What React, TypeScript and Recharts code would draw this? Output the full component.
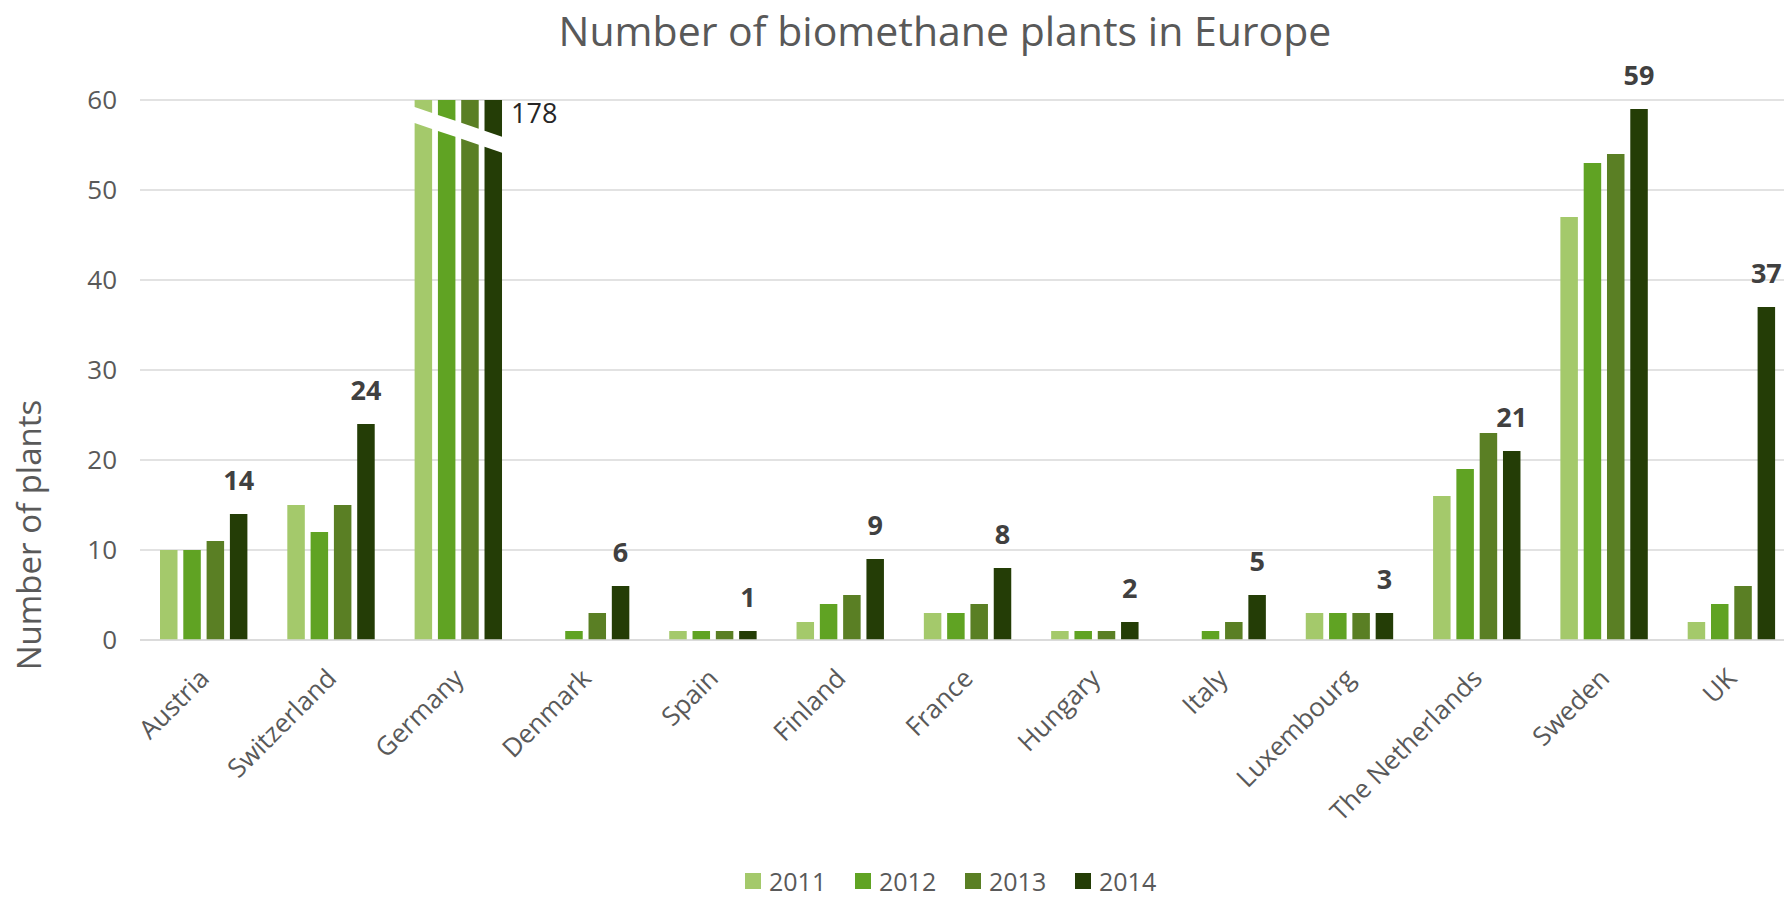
import React from 'react';
import { BarChart, Bar, XAxis, YAxis, CartesianGrid, LabelList, Label } from 'recharts';

const categories = ['Austria', 'Switzerland', 'Germany', 'Denmark', 'Spain', 'Finland', 'France', 'Hungary', 'Italy', 'Luxembourg', 'The Netherlands', 'Sweden', 'UK'];
const values2011 = [10, 15, 84, 0, 1, 2, 3, 1, 0, 3, 16, 47, 2];
const values2012 = [10, 12, 120, 1, 1, 4, 3, 1, 1, 3, 19, 53, 4];
const values2013 = [11, 15, 151, 3, 1, 5, 4, 1, 2, 3, 23, 54, 6];
const values2014 = [14, 24, 178, 6, 1, 9, 8, 2, 5, 3, 21, 59, 37];
const seriesNames = ['2011', '2012', '2013', '2014'];
const seriesColors = ['#A4C96B', '#60A323', '#5A7F24', '#243D06'];
const yTicks = [0, 10, 20, 30, 40, 50, 60];

const data = categories.map((c, i) => ({
  name: c,
  y2011: values2011[i],
  y2012: values2012[i],
  y2013: values2013[i],
  y2014: values2014[i],
}));
const keys = ['y2011', 'y2012', 'y2013', 'y2014'];

const FONT = '"Open Sans", "Noto Sans", sans-serif';
const BAR_SIZE = 17.5;
const BAR_GAP = 5.8;
const Y_MAX = yTicks[yTicks.length - 1];

const makeShape = (seriesIdx: number) => (props: any) => {
  const { x, y, width, height, fill, background, payload } = props;
  if (!height || height <= 0.01) return null;
  const bottom = y + height;
  const top = background && typeof background.y === 'number' ? background.y : y;
  if (y >= top - 0.5) {
    return <rect x={x} y={y} width={width} height={height} fill={fill} />;
  }
  const gx = seriesIdx * (width + BAR_GAP);
  const slope = 0.34;
  const u = (dx: number) => top + 7 + slope * (gx + dx);
  const gap = 16;
  const topPiece = `M${x},${top} L${x + width},${top} L${x + width},${u(width)} L${x},${u(0)} Z`;
  const lowPiece = `M${x},${u(0) + gap} L${x + width},${u(width) + gap} L${x + width},${bottom} L${x},${bottom} Z`;
  return (
    <g>
      <path d={topPiece} fill={fill} />
      <path d={lowPiece} fill={fill} />
      {seriesIdx === 3 ? (
        <text x={x + width + 9} y={top + 23} fontSize={27} fill="#262626" fontFamily={FONT}>
          {payload[keys[seriesIdx]]}
        </text>
      ) : null}
    </g>
  );
};

const TopLabel = (props: any) => {
  const { x, y, width, value } = props;
  if (value > Y_MAX) return null;
  return (
    <text x={x + width / 2} y={y - 24} textAnchor="middle" fontSize={27} fontWeight="bold" fill="#404040" fontFamily={FONT}>
      {value}
    </text>
  );
};

const XTick = (props: any) => {
  const { x, y, payload } = props;
  return (
    <g transform={`translate(${x + 7},${y + 32})`}>
      <text textAnchor="end" transform="rotate(-45)" fontSize={26} fill="#595959" fontFamily={FONT}>
        {payload.value}
      </text>
    </g>
  );
};

const YLabel = () => (
  <text
    x={0}
    y={0}
    transform="translate(41,535) rotate(-90)"
    textAnchor="middle"
    fontSize={33}
    fill="#595959"
    fontFamily={FONT}
  >
    Number of plants
  </text>
);

export default function App() {
  return (
    <div style={{ position: 'fixed', left: 0, top: 0, width: 1784, height: 897, overflow: 'hidden', background: '#fff' }}>
      <div
        style={{
          position: 'absolute',
          left: 945,
          top: 30,
          transform: 'translate(-50%,-50%)',
          whiteSpace: 'nowrap',
          fontFamily: FONT,
          fontSize: 41,
          lineHeight: '48px',
          color: '#595959',
        }}
      >
        Number of biomethane plants in Europe
      </div>
      <BarChart
        width={1800}
        height={897}
        data={data}
        margin={{ top: 100, right: 5, left: 0, bottom: 0 }}
        barSize={BAR_SIZE}
        barGap={BAR_GAP}
      >
        <CartesianGrid vertical={false} stroke="#D9D9D9" strokeWidth={1.5} />
        <XAxis
          dataKey="name"
          height={257}
          interval={0}
          tickLine={false}
          axisLine={{ stroke: '#D9D9D9', strokeWidth: 1.5 }}
          tick={<XTick />}
        />
        <YAxis
          width={140}
          domain={[0, Y_MAX]}
          ticks={yTicks}
          allowDataOverflow
          axisLine={false}
          tickLine={false}
          tickMargin={17}
          tick={{ fontSize: 26, fill: '#595959', fontFamily: FONT }}
        >
          <Label content={<YLabel />} />
        </YAxis>
        {keys.map((k, i) => (
          <Bar key={k} dataKey={k} name={seriesNames[i]} fill={seriesColors[i]} isAnimationActive={false} shape={makeShape(i)}>
            {i === 3 ? <LabelList dataKey={k} content={<TopLabel />} /> : null}
          </Bar>
        ))}
      </BarChart>
      <div
        style={{
          position: 'absolute',
          left: 745,
          top: 868,
          height: 26,
          display: 'flex',
          alignItems: 'center',
          fontFamily: FONT,
          fontSize: 25,
          lineHeight: '26px',
          color: '#595959',
        }}
      >
        {seriesNames.map((n, i) => (
          <div key={n} style={{ display: 'flex', alignItems: 'center', width: 110 }}>
            <span style={{ display: 'inline-block', width: 16, height: 16, background: seriesColors[i], marginRight: 8 }} />
            <span>{n}</span>
          </div>
        ))}
      </div>
    </div>
  );
}
